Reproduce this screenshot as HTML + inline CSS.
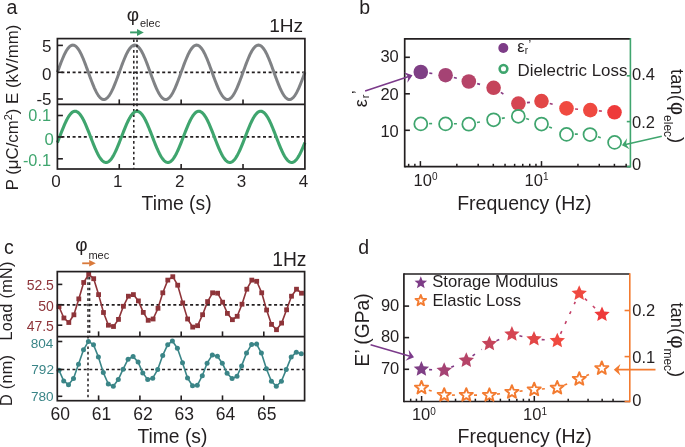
<!DOCTYPE html>
<html><head><meta charset="utf-8"><style>
html,body{margin:0;padding:0;background:#fff;width:685px;height:447px;overflow:hidden}
svg{display:block;will-change:transform}
text{font-family:"Liberation Sans", sans-serif}
</style></head><body>
<svg width="685" height="447" viewBox="0 0 685 447">
<rect width="685" height="447" fill="#fff"/>
<text x="6.5" y="14.3" font-size="19.5" fill="#231f20" text-anchor="start" >a</text>
<text x="269.2" y="32.4" font-size="19.1" fill="#231f20" text-anchor="start" >1Hz</text>
<line x1="57.4" y1="72.4" x2="304.9" y2="72.4" stroke="#231f20" stroke-width="1.7" stroke-dasharray="3 2.6" stroke-dashoffset="1.6"/>
<line x1="57.4" y1="136.9" x2="304.9" y2="136.9" stroke="#231f20" stroke-width="1.7" stroke-dasharray="3 2.6" stroke-dashoffset="1.6"/>
<line x1="133.8" y1="38.6" x2="133.8" y2="169" stroke="#231f20" stroke-width="1.5" stroke-dasharray="2.6 2.75" stroke-dashoffset="-0.8"/>
<polyline points="57.4,72.3 58.02,70.59 58.64,68.89 59.26,67.2 59.88,65.54 60.49,63.89 61.11,62.29 61.73,60.72 62.35,59.2 62.97,57.73 63.59,56.31 64.21,54.96 64.83,53.68 65.44,52.47 66.06,51.34 66.68,50.29 67.3,49.33 67.92,48.46 68.54,47.69 69.16,47.01 69.78,46.43 70.39,45.95 71.01,45.58 71.63,45.31 72.25,45.15 72.87,45.1 73.49,45.15 74.11,45.31 74.72,45.58 75.34,45.95 75.96,46.43 76.58,47.01 77.2,47.69 77.82,48.46 78.44,49.33 79.06,50.29 79.67,51.34 80.29,52.47 80.91,53.68 81.53,54.96 82.15,56.31 82.77,57.73 83.39,59.2 84.01,60.72 84.62,62.29 85.24,63.89 85.86,65.54 86.48,67.2 87.1,68.89 87.72,70.59 88.34,72.3 88.96,74.01 89.57,75.71 90.19,77.4 90.81,79.06 91.43,80.71 92.05,82.31 92.67,83.88 93.29,85.4 93.91,86.87 94.52,88.29 95.14,89.64 95.76,90.92 96.38,92.13 97,93.26 97.62,94.31 98.24,95.27 98.86,96.14 99.47,96.91 100.09,97.59 100.71,98.17 101.33,98.65 101.95,99.02 102.57,99.29 103.19,99.45 103.81,99.5 104.42,99.45 105.04,99.29 105.66,99.02 106.28,98.65 106.9,98.17 107.52,97.59 108.14,96.91 108.76,96.14 109.38,95.27 109.99,94.31 110.61,93.26 111.23,92.13 111.85,90.92 112.47,89.64 113.09,88.29 113.71,86.87 114.32,85.4 114.94,83.88 115.56,82.31 116.18,80.71 116.8,79.06 117.42,77.4 118.04,75.71 118.66,74.01 119.27,72.3 119.89,70.59 120.51,68.89 121.13,67.2 121.75,65.54 122.37,63.89 122.99,62.29 123.61,60.72 124.22,59.2 124.84,57.73 125.46,56.31 126.08,54.96 126.7,53.68 127.32,52.47 127.94,51.34 128.56,50.29 129.17,49.33 129.79,48.46 130.41,47.69 131.03,47.01 131.65,46.43 132.27,45.95 132.89,45.58 133.51,45.31 134.12,45.15 134.74,45.1 135.36,45.15 135.98,45.31 136.6,45.58 137.22,45.95 137.84,46.43 138.46,47.01 139.07,47.69 139.69,48.46 140.31,49.33 140.93,50.29 141.55,51.34 142.17,52.47 142.79,53.68 143.41,54.96 144.02,56.31 144.64,57.73 145.26,59.2 145.88,60.72 146.5,62.29 147.12,63.89 147.74,65.54 148.36,67.2 148.97,68.89 149.59,70.59 150.21,72.3 150.83,74.01 151.45,75.71 152.07,77.4 152.69,79.06 153.31,80.71 153.92,82.31 154.54,83.88 155.16,85.4 155.78,86.87 156.4,88.29 157.02,89.64 157.64,90.92 158.26,92.13 158.87,93.26 159.49,94.31 160.11,95.27 160.73,96.14 161.35,96.91 161.97,97.59 162.59,98.17 163.21,98.65 163.82,99.02 164.44,99.29 165.06,99.45 165.68,99.5 166.3,99.45 166.92,99.29 167.54,99.02 168.16,98.65 168.77,98.17 169.39,97.59 170.01,96.91 170.63,96.14 171.25,95.27 171.87,94.31 172.49,93.26 173.11,92.13 173.72,90.92 174.34,89.64 174.96,88.29 175.58,86.87 176.2,85.4 176.82,83.88 177.44,82.31 178.06,80.71 178.67,79.06 179.29,77.4 179.91,75.71 180.53,74.01 181.15,72.3 181.77,70.59 182.39,68.89 183.01,67.2 183.62,65.54 184.24,63.89 184.86,62.29 185.48,60.72 186.1,59.2 186.72,57.73 187.34,56.31 187.96,54.96 188.57,53.68 189.19,52.47 189.81,51.34 190.43,50.29 191.05,49.33 191.67,48.46 192.29,47.69 192.91,47.01 193.53,46.43 194.14,45.95 194.76,45.58 195.38,45.31 196,45.15 196.62,45.1 197.24,45.15 197.86,45.31 198.47,45.58 199.09,45.95 199.71,46.43 200.33,47.01 200.95,47.69 201.57,48.46 202.19,49.33 202.81,50.29 203.42,51.34 204.04,52.47 204.66,53.68 205.28,54.96 205.9,56.31 206.52,57.73 207.14,59.2 207.76,60.72 208.37,62.29 208.99,63.89 209.61,65.54 210.23,67.2 210.85,68.89 211.47,70.59 212.09,72.3 212.71,74.01 213.32,75.71 213.94,77.4 214.56,79.06 215.18,80.71 215.8,82.31 216.42,83.88 217.04,85.4 217.66,86.87 218.28,88.29 218.89,89.64 219.51,90.92 220.13,92.13 220.75,93.26 221.37,94.31 221.99,95.27 222.61,96.14 223.22,96.91 223.84,97.59 224.46,98.17 225.08,98.65 225.7,99.02 226.32,99.29 226.94,99.45 227.56,99.5 228.17,99.45 228.79,99.29 229.41,99.02 230.03,98.65 230.65,98.17 231.27,97.59 231.89,96.91 232.51,96.14 233.12,95.27 233.74,94.31 234.36,93.26 234.98,92.13 235.6,90.92 236.22,89.64 236.84,88.29 237.46,86.87 238.07,85.4 238.69,83.88 239.31,82.31 239.93,80.71 240.55,79.06 241.17,77.4 241.79,75.71 242.41,74.01 243.02,72.3 243.64,70.59 244.26,68.89 244.88,67.2 245.5,65.54 246.12,63.89 246.74,62.29 247.36,60.72 247.97,59.2 248.59,57.73 249.21,56.31 249.83,54.96 250.45,53.68 251.07,52.47 251.69,51.34 252.31,50.29 252.92,49.33 253.54,48.46 254.16,47.69 254.78,47.01 255.4,46.43 256.02,45.95 256.64,45.58 257.26,45.31 257.88,45.15 258.49,45.1 259.11,45.15 259.73,45.31 260.35,45.58 260.97,45.95 261.59,46.43 262.21,47.01 262.82,47.69 263.44,48.46 264.06,49.33 264.68,50.29 265.3,51.34 265.92,52.47 266.54,53.68 267.16,54.96 267.77,56.31 268.39,57.73 269.01,59.2 269.63,60.72 270.25,62.29 270.87,63.89 271.49,65.54 272.11,67.2 272.72,68.89 273.34,70.59 273.96,72.3 274.58,74.01 275.2,75.71 275.82,77.4 276.44,79.06 277.06,80.71 277.67,82.31 278.29,83.88 278.91,85.4 279.53,86.87 280.15,88.29 280.77,89.64 281.39,90.92 282.01,92.13 282.62,93.26 283.24,94.31 283.86,95.27 284.48,96.14 285.1,96.91 285.72,97.59 286.34,98.17 286.96,98.65 287.57,99.02 288.19,99.29 288.81,99.45 289.43,99.5 290.05,99.45 290.67,99.29 291.29,99.02 291.91,98.65 292.52,98.17 293.14,97.59 293.76,96.91 294.38,96.14 295,95.27 295.62,94.31 296.24,93.26 296.86,92.13 297.47,90.92 298.09,89.64 298.71,88.29 299.33,86.87 299.95,85.4 300.57,83.88 301.19,82.31 301.81,80.71 302.42,79.06 303.04,77.4 303.66,75.71 304.28,74.01 304.9,72.3" fill="none" stroke="#808285" stroke-width="3.0" stroke-linejoin="round" />
<polyline points="57.4,142.59 58.02,141.01 58.64,139.42 59.26,137.81 59.88,136.21 60.49,134.6 61.11,133 61.73,131.42 62.35,129.86 62.97,128.33 63.59,126.83 64.21,125.37 64.83,123.96 65.44,122.59 66.06,121.29 66.68,120.04 67.3,118.86 67.92,117.75 68.54,116.72 69.16,115.77 69.78,114.9 70.39,114.11 71.01,113.42 71.63,112.82 72.25,112.31 72.87,111.9 73.49,111.59 74.11,111.38 74.72,111.27 75.34,111.26 75.96,111.35 76.58,111.54 77.2,111.83 77.82,112.22 78.44,112.71 79.06,113.29 79.67,113.97 80.29,114.73 80.91,115.59 81.53,116.52 82.15,117.54 82.77,118.63 83.39,119.8 84.01,121.03 84.62,122.33 85.24,123.68 85.86,125.08 86.48,126.54 87.1,128.03 87.72,129.55 88.34,131.11 88.96,132.69 89.57,134.28 90.19,135.89 90.81,137.49 91.43,139.1 92.05,140.7 92.67,142.28 93.29,143.84 93.91,145.37 94.52,146.87 95.14,148.33 95.76,149.74 96.38,151.11 97,152.41 97.62,153.66 98.24,154.84 98.86,155.95 99.47,156.98 100.09,157.93 100.71,158.8 101.33,159.59 101.95,160.28 102.57,160.88 103.19,161.39 103.81,161.8 104.42,162.11 105.04,162.32 105.66,162.43 106.28,162.44 106.9,162.35 107.52,162.16 108.14,161.87 108.76,161.48 109.38,160.99 109.99,160.41 110.61,159.73 111.23,158.97 111.85,158.11 112.47,157.18 113.09,156.16 113.71,155.07 114.32,153.9 114.94,152.67 115.56,151.37 116.18,150.02 116.8,148.62 117.42,147.16 118.04,145.67 118.66,144.15 119.27,142.59 119.89,141.01 120.51,139.42 121.13,137.81 121.75,136.21 122.37,134.6 122.99,133 123.61,131.42 124.22,129.86 124.84,128.33 125.46,126.83 126.08,125.37 126.7,123.96 127.32,122.59 127.94,121.29 128.56,120.04 129.17,118.86 129.79,117.75 130.41,116.72 131.03,115.77 131.65,114.9 132.27,114.11 132.89,113.42 133.51,112.82 134.12,112.31 134.74,111.9 135.36,111.59 135.98,111.38 136.6,111.27 137.22,111.26 137.84,111.35 138.46,111.54 139.07,111.83 139.69,112.22 140.31,112.71 140.93,113.29 141.55,113.97 142.17,114.73 142.79,115.59 143.41,116.52 144.02,117.54 144.64,118.63 145.26,119.8 145.88,121.03 146.5,122.33 147.12,123.68 147.74,125.08 148.36,126.54 148.97,128.03 149.59,129.55 150.21,131.11 150.83,132.69 151.45,134.28 152.07,135.89 152.69,137.49 153.31,139.1 153.92,140.7 154.54,142.28 155.16,143.84 155.78,145.37 156.4,146.87 157.02,148.33 157.64,149.74 158.26,151.11 158.87,152.41 159.49,153.66 160.11,154.84 160.73,155.95 161.35,156.98 161.97,157.93 162.59,158.8 163.21,159.59 163.82,160.28 164.44,160.88 165.06,161.39 165.68,161.8 166.3,162.11 166.92,162.32 167.54,162.43 168.16,162.44 168.77,162.35 169.39,162.16 170.01,161.87 170.63,161.48 171.25,160.99 171.87,160.41 172.49,159.73 173.11,158.97 173.72,158.11 174.34,157.18 174.96,156.16 175.58,155.07 176.2,153.9 176.82,152.67 177.44,151.37 178.06,150.02 178.67,148.62 179.29,147.16 179.91,145.67 180.53,144.15 181.15,142.59 181.77,141.01 182.39,139.42 183.01,137.81 183.62,136.21 184.24,134.6 184.86,133 185.48,131.42 186.1,129.86 186.72,128.33 187.34,126.83 187.96,125.37 188.57,123.96 189.19,122.59 189.81,121.29 190.43,120.04 191.05,118.86 191.67,117.75 192.29,116.72 192.91,115.77 193.53,114.9 194.14,114.11 194.76,113.42 195.38,112.82 196,112.31 196.62,111.9 197.24,111.59 197.86,111.38 198.47,111.27 199.09,111.26 199.71,111.35 200.33,111.54 200.95,111.83 201.57,112.22 202.19,112.71 202.81,113.29 203.42,113.97 204.04,114.73 204.66,115.59 205.28,116.52 205.9,117.54 206.52,118.63 207.14,119.8 207.76,121.03 208.37,122.33 208.99,123.68 209.61,125.08 210.23,126.54 210.85,128.03 211.47,129.55 212.09,131.11 212.71,132.69 213.32,134.28 213.94,135.89 214.56,137.49 215.18,139.1 215.8,140.7 216.42,142.28 217.04,143.84 217.66,145.37 218.28,146.87 218.89,148.33 219.51,149.74 220.13,151.11 220.75,152.41 221.37,153.66 221.99,154.84 222.61,155.95 223.22,156.98 223.84,157.93 224.46,158.8 225.08,159.59 225.7,160.28 226.32,160.88 226.94,161.39 227.56,161.8 228.17,162.11 228.79,162.32 229.41,162.43 230.03,162.44 230.65,162.35 231.27,162.16 231.89,161.87 232.51,161.48 233.12,160.99 233.74,160.41 234.36,159.73 234.98,158.97 235.6,158.11 236.22,157.18 236.84,156.16 237.46,155.07 238.07,153.9 238.69,152.67 239.31,151.37 239.93,150.02 240.55,148.62 241.17,147.16 241.79,145.67 242.41,144.15 243.02,142.59 243.64,141.01 244.26,139.42 244.88,137.81 245.5,136.21 246.12,134.6 246.74,133 247.36,131.42 247.97,129.86 248.59,128.33 249.21,126.83 249.83,125.37 250.45,123.96 251.07,122.59 251.69,121.29 252.31,120.04 252.92,118.86 253.54,117.75 254.16,116.72 254.78,115.77 255.4,114.9 256.02,114.11 256.64,113.42 257.26,112.82 257.88,112.31 258.49,111.9 259.11,111.59 259.73,111.38 260.35,111.27 260.97,111.26 261.59,111.35 262.21,111.54 262.82,111.83 263.44,112.22 264.06,112.71 264.68,113.29 265.3,113.97 265.92,114.73 266.54,115.59 267.16,116.52 267.77,117.54 268.39,118.63 269.01,119.8 269.63,121.03 270.25,122.33 270.87,123.68 271.49,125.08 272.11,126.54 272.72,128.03 273.34,129.55 273.96,131.11 274.58,132.69 275.2,134.28 275.82,135.89 276.44,137.49 277.06,139.1 277.67,140.7 278.29,142.28 278.91,143.84 279.53,145.37 280.15,146.87 280.77,148.33 281.39,149.74 282.01,151.11 282.62,152.41 283.24,153.66 283.86,154.84 284.48,155.95 285.1,156.98 285.72,157.93 286.34,158.8 286.96,159.59 287.57,160.28 288.19,160.88 288.81,161.39 289.43,161.8 290.05,162.11 290.67,162.32 291.29,162.43 291.91,162.44 292.52,162.35 293.14,162.16 293.76,161.87 294.38,161.48 295,160.99 295.62,160.41 296.24,159.73 296.86,158.97 297.47,158.11 298.09,157.18 298.71,156.16 299.33,155.07 299.95,153.9 300.57,152.67 301.19,151.37 301.81,150.02 302.42,148.62 303.04,147.16 303.66,145.67 304.28,144.15 304.9,142.59" fill="none" stroke="#3fa56e" stroke-width="3.1" stroke-linejoin="round" />
<line x1="137" y1="38.6" x2="137" y2="111" stroke="#231f20" stroke-width="1.5" stroke-dasharray="2.6 2.75" stroke-dashoffset="-0.8"/>
<rect x="57.4" y="38.6" width="247.5" height="130.4" fill="none" stroke="#231f20" stroke-width="1.7"/>
<line x1="57.4" y1="104.4" x2="304.9" y2="104.4" stroke="#231f20" stroke-width="1.7" />
<line x1="57.4" y1="45.4" x2="62.9" y2="45.4" stroke="#231f20" stroke-width="1.6" />
<line x1="57.4" y1="72.3" x2="62.9" y2="72.3" stroke="#231f20" stroke-width="1.6" />
<line x1="57.4" y1="99" x2="62.9" y2="99" stroke="#231f20" stroke-width="1.6" />
<line x1="57.4" y1="115.5" x2="62.9" y2="115.5" stroke="#231f20" stroke-width="1.6" />
<line x1="57.4" y1="137" x2="62.9" y2="137" stroke="#231f20" stroke-width="1.6" />
<line x1="57.4" y1="158.8" x2="62.9" y2="158.8" stroke="#231f20" stroke-width="1.6" />
<line x1="119.27" y1="169" x2="119.27" y2="164" stroke="#231f20" stroke-width="1.6" />
<line x1="119.27" y1="104.4" x2="119.27" y2="99.4" stroke="#231f20" stroke-width="1.6" />
<line x1="181.15" y1="169" x2="181.15" y2="164" stroke="#231f20" stroke-width="1.6" />
<line x1="181.15" y1="104.4" x2="181.15" y2="99.4" stroke="#231f20" stroke-width="1.6" />
<line x1="243.02" y1="169" x2="243.02" y2="164" stroke="#231f20" stroke-width="1.6" />
<line x1="243.02" y1="104.4" x2="243.02" y2="99.4" stroke="#231f20" stroke-width="1.6" />
<text x="51.5" y="51.5" font-size="17" fill="#231f20" text-anchor="end" >5</text>
<text x="51.5" y="79.9" font-size="17" fill="#231f20" text-anchor="end" >0</text>
<text x="51.5" y="105.1" font-size="17" fill="#231f20" text-anchor="end" >-5</text>
<text x="51" y="120.8" font-size="16.3" fill="#3fa56e" text-anchor="end" >0.1</text>
<text x="53.8" y="145" font-size="16.8" fill="#3fa56e" text-anchor="end" >0</text>
<text x="51" y="166.2" font-size="16.3" fill="#3fa56e" text-anchor="end" >-0.1</text>
<text x="55.9" y="186.8" font-size="17" fill="#231f20" text-anchor="middle" >0</text>
<text x="117.77" y="186.8" font-size="17" fill="#231f20" text-anchor="middle" >1</text>
<text x="179.65" y="186.8" font-size="17" fill="#231f20" text-anchor="middle" >2</text>
<text x="241.52" y="186.8" font-size="17" fill="#231f20" text-anchor="middle" >3</text>
<text x="303.4" y="186.8" font-size="17" fill="#231f20" text-anchor="middle" >4</text>
<text x="176.6" y="210.1" font-size="19.3" fill="#231f20" text-anchor="middle" >Time (s)</text>
<text transform="translate(18.1,190.3) rotate(-90)" font-size="16.8" fill="#231f20">P (μC/cm<tspan font-size="11" dy="-6">2</tspan><tspan dy="6">) E (kV/mm)</tspan></text>
<text x="126.8" y="20.6" font-size="19" fill="#231f20" text-anchor="start" >φ</text>
<text x="140" y="26.5" font-size="11" fill="#231f20" text-anchor="start" >elec</text>
<line x1="130.1" y1="32.4" x2="137.5" y2="32.4" stroke="#3a9c68" stroke-width="1.9" />
<polygon points="143.8,32.4 137,35.9 137,32.4 137,28.9" fill="#3a9c68"/>
<text x="359.2" y="14" font-size="19.5" fill="#231f20" text-anchor="start" >b</text>
<line x1="404.7" y1="38.9" x2="630.4" y2="38.9" stroke="#231f20" stroke-width="1.7" />
<line x1="404.7" y1="38.05" x2="404.7" y2="167.45" stroke="#231f20" stroke-width="1.7" />
<line x1="404.7" y1="166.6" x2="630.4" y2="166.6" stroke="#231f20" stroke-width="1.7" />
<line x1="630.4" y1="38.05" x2="630.4" y2="167.45" stroke="#3fa56e" stroke-width="1.6" />
<line x1="404.7" y1="57.3" x2="409.9" y2="57.3" stroke="#231f20" stroke-width="1.6" />
<text x="398.8" y="62.4" font-size="16.5" fill="#231f20" text-anchor="end" >30</text>
<line x1="404.7" y1="93.8" x2="409.9" y2="93.8" stroke="#231f20" stroke-width="1.6" />
<text x="398.8" y="100" font-size="16.5" fill="#231f20" text-anchor="end" >20</text>
<line x1="404.7" y1="130.3" x2="409.9" y2="130.3" stroke="#231f20" stroke-width="1.6" />
<text x="398.8" y="137" font-size="16.5" fill="#231f20" text-anchor="end" >10</text>
<line x1="630.4" y1="75.8" x2="626.8" y2="75.8" stroke="#3fa56e" stroke-width="1.6" />
<line x1="630.4" y1="121.6" x2="626.8" y2="121.6" stroke="#3fa56e" stroke-width="1.6" />
<line x1="630.4" y1="166.6" x2="626.8" y2="166.6" stroke="#3fa56e" stroke-width="1.6" />
<text x="632" y="79.9" font-size="16.5" fill="#231f20" text-anchor="start" >0.4</text>
<text x="632" y="127.7" font-size="16.5" fill="#231f20" text-anchor="start" >0.2</text>
<text x="632" y="169.6" font-size="16.5" fill="#231f20" text-anchor="start" >0</text>
<line x1="408.66" y1="166.6" x2="408.66" y2="163.8" stroke="#231f20" stroke-width="1.5" />
<line x1="414.86" y1="166.6" x2="414.86" y2="163.8" stroke="#231f20" stroke-width="1.5" />
<line x1="456.85" y1="166.6" x2="456.85" y2="163.8" stroke="#231f20" stroke-width="1.5" />
<line x1="478.18" y1="166.6" x2="478.18" y2="163.8" stroke="#231f20" stroke-width="1.5" />
<line x1="493.31" y1="166.6" x2="493.31" y2="163.8" stroke="#231f20" stroke-width="1.5" />
<line x1="505.05" y1="166.6" x2="505.05" y2="163.8" stroke="#231f20" stroke-width="1.5" />
<line x1="514.63" y1="166.6" x2="514.63" y2="163.8" stroke="#231f20" stroke-width="1.5" />
<line x1="522.74" y1="166.6" x2="522.74" y2="163.8" stroke="#231f20" stroke-width="1.5" />
<line x1="529.76" y1="166.6" x2="529.76" y2="163.8" stroke="#231f20" stroke-width="1.5" />
<line x1="535.96" y1="166.6" x2="535.96" y2="163.8" stroke="#231f20" stroke-width="1.5" />
<line x1="577.95" y1="166.6" x2="577.95" y2="163.8" stroke="#231f20" stroke-width="1.5" />
<line x1="599.28" y1="166.6" x2="599.28" y2="163.8" stroke="#231f20" stroke-width="1.5" />
<line x1="614.41" y1="166.6" x2="614.41" y2="163.8" stroke="#231f20" stroke-width="1.5" />
<line x1="626.15" y1="166.6" x2="626.15" y2="163.8" stroke="#231f20" stroke-width="1.5" />
<line x1="420.4" y1="166.6" x2="420.4" y2="161.1" stroke="#231f20" stroke-width="1.5" />
<line x1="541.5" y1="166.6" x2="541.5" y2="161.1" stroke="#231f20" stroke-width="1.5" />
<text x="413.6" y="185.8" font-size="16.5" fill="#231f20">10<tspan font-size="10" dy="-5.4">0</tspan></text>
<text x="524.6" y="185.8" font-size="16.5" fill="#231f20">10<tspan font-size="10" dy="-5.4">1</tspan></text>
<text x="524.4" y="209.9" font-size="19.5" fill="#231f20" text-anchor="middle" >Frequency (Hz)</text>
<line x1="429.33" y1="73.1" x2="436.18" y2="73.98" stroke="#7d3a88" stroke-width="1.6" stroke-dasharray="3 9" />
<line x1="453.9" y1="77.45" x2="459.63" y2="79.01" stroke="#803a86" stroke-width="1.6" stroke-dasharray="3 9" />
<line x1="477.14" y1="83.62" x2="484.39" y2="85.46" stroke="#843a84" stroke-width="1.6" stroke-dasharray="3 9" />
<line x1="500.85" y1="92.42" x2="510.39" y2="98.5" stroke="#883a80" stroke-width="1.6" stroke-dasharray="3 9" />
<line x1="526.95" y1="102.67" x2="532.06" y2="102.12" stroke="#8e3a7e" stroke-width="1.6" stroke-dasharray="3 9" />
<line x1="549.76" y1="103.51" x2="557.38" y2="105.74" stroke="#9c3b78" stroke-width="1.6" stroke-dasharray="3 9" />
<line x1="575.08" y1="109.01" x2="580.82" y2="109.42" stroke="#c23e66" stroke-width="1.6" stroke-dasharray="3 9" />
<line x1="598.86" y1="110.88" x2="605.04" y2="111.44" stroke="#c9456a" stroke-width="1.6" stroke-dasharray="3 9" />
<line x1="429.1" y1="123.6" x2="436.1" y2="123.6" stroke="#3fa56e" stroke-width="1.6" stroke-dasharray="3 9" />
<line x1="453.9" y1="123.71" x2="459.3" y2="123.78" stroke="#3fa56e" stroke-width="1.6" stroke-dasharray="3 9" />
<line x1="476.97" y1="122.45" x2="484.25" y2="121.16" stroke="#3fa56e" stroke-width="1.6" stroke-dasharray="3 9" />
<line x1="501.82" y1="118.34" x2="508.89" y2="117.33" stroke="#3fa56e" stroke-width="1.6" stroke-dasharray="3 9" />
<line x1="526.18" y1="118.61" x2="532.48" y2="120.71" stroke="#3fa56e" stroke-width="1.6" stroke-dasharray="3 9" />
<line x1="549.16" y1="126.89" x2="557.73" y2="130.45" stroke="#3fa56e" stroke-width="1.6" stroke-dasharray="3 9" />
<line x1="574.8" y1="134.14" x2="580.5" y2="134.16" stroke="#3fa56e" stroke-width="1.6" stroke-dasharray="3 9" />
<line x1="597.9" y1="136.74" x2="605.55" y2="139.2" stroke="#3fa56e" stroke-width="1.6" stroke-dasharray="3 9" />
<circle cx="420.8" cy="72" r="7.3" fill="#7f3f85"/>
<circle cx="445.6" cy="75.2" r="7.3" fill="#a54374"/>
<circle cx="468.8" cy="81.5" r="7.3" fill="#b64468"/>
<circle cx="493.6" cy="87.8" r="7.3" fill="#c5445b"/>
<circle cx="518.4" cy="103.6" r="7.3" fill="#d54552"/>
<circle cx="541.5" cy="101.1" r="7.3" fill="#e24646"/>
<circle cx="566.5" cy="108.4" r="7.3" fill="#f04a40"/>
<circle cx="590.3" cy="110.1" r="7.3" fill="#ef4940"/>
<circle cx="614.5" cy="112.3" r="7.3" fill="#ee3a3a"/>
<circle cx="420.8" cy="123.9" r="6.5" fill="none" stroke="#3fa56e" stroke-width="1.75"/>
<circle cx="445.6" cy="123.9" r="6.5" fill="none" stroke="#3fa56e" stroke-width="1.75"/>
<circle cx="468.8" cy="124.2" r="6.5" fill="none" stroke="#3fa56e" stroke-width="1.75"/>
<circle cx="493.6" cy="119.8" r="6.5" fill="none" stroke="#3fa56e" stroke-width="1.75"/>
<circle cx="518.3" cy="116.3" r="6.5" fill="none" stroke="#3fa56e" stroke-width="1.75"/>
<circle cx="541.5" cy="124" r="6.5" fill="none" stroke="#3fa56e" stroke-width="1.75"/>
<circle cx="566.5" cy="134.4" r="6.5" fill="none" stroke="#3fa56e" stroke-width="1.75"/>
<circle cx="590" cy="134.5" r="6.5" fill="none" stroke="#3fa56e" stroke-width="1.75"/>
<circle cx="614.6" cy="142.4" r="6.5" fill="none" stroke="#3fa56e" stroke-width="1.75"/>
<circle cx="503.3" cy="48" r="5" fill="#7d3c87"/>
<circle cx="503.5" cy="68.8" r="3.85" fill="none" stroke="#3fa56e" stroke-width="2.6"/>
<text x="517.3" y="52.3" font-size="16.5" fill="#231f20">ε<tspan font-size="10" dy="1.5">r</tspan><tspan font-size="12" dx="0.5" dy="-4.4">’</tspan></text>
<text x="517.5" y="75.6" font-size="16.9" fill="#231f20" text-anchor="start" >Dielectric Loss</text>
<text transform="translate(367.2,107.2) rotate(-90)" font-size="18" fill="#231f20">ε<tspan font-size="11" dx="0.8" dy="1.6">r</tspan><tspan font-size="16" dx="0.6" dy="-4.7">’</tspan></text>
<text transform="translate(670.6,69.0) rotate(90)" font-size="18.5" fill="#231f20">tan(<tspan font-size="20" dx="1.2">φ</tspan><tspan font-size="12" dy="6.6">elec</tspan><tspan dy="-6.6">)</tspan></text>
<line x1="365.1" y1="91.1" x2="408.71" y2="76.56" stroke="#7b3a8a" stroke-width="1.6" />
<polygon points="412.5,75.3 407.41,82.79 408.23,76.72 403.93,72.36" fill="#7b3a8a"/>
<line x1="661.8" y1="136.2" x2="625.51" y2="144.48" stroke="#3fa56e" stroke-width="1.6" />
<polygon points="621.9,145.3 627.09,138.37 625.99,144.37 629.58,149.29" fill="#3fa56e"/>
<text x="4" y="253.5" font-size="19.5" fill="#231f20" text-anchor="start" >c</text>
<text x="272.2" y="266.2" font-size="19.3" fill="#231f20" text-anchor="start" >1Hz</text>
<line x1="57.3" y1="304.8" x2="304.6" y2="304.8" stroke="#231f20" stroke-width="1.7" stroke-dasharray="3 2.6" stroke-dashoffset="1.6"/>
<line x1="57.3" y1="369.5" x2="304.6" y2="369.5" stroke="#231f20" stroke-width="1.7" stroke-dasharray="3 2.6" stroke-dashoffset="1.6"/>
<line x1="88" y1="271.6" x2="88" y2="400.7" stroke="#231f20" stroke-width="1.5" stroke-dasharray="2.6 2.75" />
<line x1="89.7" y1="271.6" x2="89.7" y2="336.7" stroke="#231f20" stroke-width="1.3" stroke-dasharray="2.6 2.75" />
<polyline points="59,306.7 63.9,318 68.8,322.5 73.9,314.8 78.8,298.9 83.7,282.5 88.7,274.3 93.7,278.7 98.6,294.6 103.5,312.5 108.4,325.2 113.5,326.5 118.5,319.4 123.4,306.3 128.4,296.2 133.4,294.6 138.4,300.9 143.3,312.4 148.2,320.3 153.1,319 158,308.3 162.8,292.8 167.8,280.1 172.8,276.7 177.7,285.2 182.7,302.9 187.6,319 192.7,327.1 197.6,325.7 202.6,314.7 207.6,301.6 212.6,292.8 217.6,293.2 222.6,302.2 227.4,313.4 232.4,319.7 237.2,316.3 242,304.2 246.8,289.2 251.8,280.1 256.7,281.3 261.7,292.8 266.6,310 271.5,324.4 276.5,329.7 281.6,323.1 286.6,309.8 291.5,296.2 296.5,289.2 301.5,293.2" fill="none" stroke="#8e3439" stroke-width="1.6" stroke-linejoin="round" />
<rect x="56.6" y="304.3" width="4.8" height="4.8" fill="#8e3439"/>
<rect x="61.5" y="315.6" width="4.8" height="4.8" fill="#8e3439"/>
<rect x="66.4" y="320.1" width="4.8" height="4.8" fill="#8e3439"/>
<rect x="71.5" y="312.4" width="4.8" height="4.8" fill="#8e3439"/>
<rect x="76.4" y="296.5" width="4.8" height="4.8" fill="#8e3439"/>
<rect x="81.3" y="280.1" width="4.8" height="4.8" fill="#8e3439"/>
<rect x="86.3" y="271.9" width="4.8" height="4.8" fill="#8e3439"/>
<rect x="91.3" y="276.3" width="4.8" height="4.8" fill="#8e3439"/>
<rect x="96.2" y="292.2" width="4.8" height="4.8" fill="#8e3439"/>
<rect x="101.1" y="310.1" width="4.8" height="4.8" fill="#8e3439"/>
<rect x="106" y="322.8" width="4.8" height="4.8" fill="#8e3439"/>
<rect x="111.1" y="324.1" width="4.8" height="4.8" fill="#8e3439"/>
<rect x="116.1" y="317" width="4.8" height="4.8" fill="#8e3439"/>
<rect x="121" y="303.9" width="4.8" height="4.8" fill="#8e3439"/>
<rect x="126" y="293.8" width="4.8" height="4.8" fill="#8e3439"/>
<rect x="131" y="292.2" width="4.8" height="4.8" fill="#8e3439"/>
<rect x="136" y="298.5" width="4.8" height="4.8" fill="#8e3439"/>
<rect x="140.9" y="310" width="4.8" height="4.8" fill="#8e3439"/>
<rect x="145.8" y="317.9" width="4.8" height="4.8" fill="#8e3439"/>
<rect x="150.7" y="316.6" width="4.8" height="4.8" fill="#8e3439"/>
<rect x="155.6" y="305.9" width="4.8" height="4.8" fill="#8e3439"/>
<rect x="160.4" y="290.4" width="4.8" height="4.8" fill="#8e3439"/>
<rect x="165.4" y="277.7" width="4.8" height="4.8" fill="#8e3439"/>
<rect x="170.4" y="274.3" width="4.8" height="4.8" fill="#8e3439"/>
<rect x="175.3" y="282.8" width="4.8" height="4.8" fill="#8e3439"/>
<rect x="180.3" y="300.5" width="4.8" height="4.8" fill="#8e3439"/>
<rect x="185.2" y="316.6" width="4.8" height="4.8" fill="#8e3439"/>
<rect x="190.3" y="324.7" width="4.8" height="4.8" fill="#8e3439"/>
<rect x="195.2" y="323.3" width="4.8" height="4.8" fill="#8e3439"/>
<rect x="200.2" y="312.3" width="4.8" height="4.8" fill="#8e3439"/>
<rect x="205.2" y="299.2" width="4.8" height="4.8" fill="#8e3439"/>
<rect x="210.2" y="290.4" width="4.8" height="4.8" fill="#8e3439"/>
<rect x="215.2" y="290.8" width="4.8" height="4.8" fill="#8e3439"/>
<rect x="220.2" y="299.8" width="4.8" height="4.8" fill="#8e3439"/>
<rect x="225" y="311" width="4.8" height="4.8" fill="#8e3439"/>
<rect x="230" y="317.3" width="4.8" height="4.8" fill="#8e3439"/>
<rect x="234.8" y="313.9" width="4.8" height="4.8" fill="#8e3439"/>
<rect x="239.6" y="301.8" width="4.8" height="4.8" fill="#8e3439"/>
<rect x="244.4" y="286.8" width="4.8" height="4.8" fill="#8e3439"/>
<rect x="249.4" y="277.7" width="4.8" height="4.8" fill="#8e3439"/>
<rect x="254.3" y="278.9" width="4.8" height="4.8" fill="#8e3439"/>
<rect x="259.3" y="290.4" width="4.8" height="4.8" fill="#8e3439"/>
<rect x="264.2" y="307.6" width="4.8" height="4.8" fill="#8e3439"/>
<rect x="269.1" y="322" width="4.8" height="4.8" fill="#8e3439"/>
<rect x="274.1" y="327.3" width="4.8" height="4.8" fill="#8e3439"/>
<rect x="279.2" y="320.7" width="4.8" height="4.8" fill="#8e3439"/>
<rect x="284.2" y="307.4" width="4.8" height="4.8" fill="#8e3439"/>
<rect x="289.1" y="293.8" width="4.8" height="4.8" fill="#8e3439"/>
<rect x="294.1" y="286.8" width="4.8" height="4.8" fill="#8e3439"/>
<rect x="299.1" y="290.8" width="4.8" height="4.8" fill="#8e3439"/>
<polyline points="59,370.2 63.7,380.9 68.5,384.7 73.5,378.6 78.5,364.3 83.5,349.8 88.4,341.4 93.5,344.7 98.4,356.9 103.3,372.6 108.3,384 113.3,386.2 118.3,379.6 123.1,369.2 128.1,359.2 133.1,356.5 138.1,362.1 142.8,372.9 147.7,379.6 152.7,378.2 157.7,369.6 162.7,355.4 167.7,344.7 172.4,341 177.4,348.2 182.5,362.8 187.5,378 192.5,385.7 197.3,385.3 202.3,375.7 207.1,363.2 212.3,354.9 217.4,356.2 222.3,363.2 227.1,373.3 232.1,378.6 237,376.3 241.6,365.9 246.5,353.1 251.6,344.4 256.6,344.1 261.4,353.1 266.4,368.7 271.4,381.3 276.3,386.3 281.4,381.3 286.2,369.6 291.2,357.1 296.3,352.2 301.3,353.8" fill="none" stroke="#3a8587" stroke-width="1.6" stroke-linejoin="round" />
<circle cx="59" cy="370.2" r="2.5" fill="#3a8587"/>
<circle cx="63.7" cy="380.9" r="2.5" fill="#3a8587"/>
<circle cx="68.5" cy="384.7" r="2.5" fill="#3a8587"/>
<circle cx="73.5" cy="378.6" r="2.5" fill="#3a8587"/>
<circle cx="78.5" cy="364.3" r="2.5" fill="#3a8587"/>
<circle cx="83.5" cy="349.8" r="2.5" fill="#3a8587"/>
<circle cx="88.4" cy="341.4" r="2.5" fill="#3a8587"/>
<circle cx="93.5" cy="344.7" r="2.5" fill="#3a8587"/>
<circle cx="98.4" cy="356.9" r="2.5" fill="#3a8587"/>
<circle cx="103.3" cy="372.6" r="2.5" fill="#3a8587"/>
<circle cx="108.3" cy="384" r="2.5" fill="#3a8587"/>
<circle cx="113.3" cy="386.2" r="2.5" fill="#3a8587"/>
<circle cx="118.3" cy="379.6" r="2.5" fill="#3a8587"/>
<circle cx="123.1" cy="369.2" r="2.5" fill="#3a8587"/>
<circle cx="128.1" cy="359.2" r="2.5" fill="#3a8587"/>
<circle cx="133.1" cy="356.5" r="2.5" fill="#3a8587"/>
<circle cx="138.1" cy="362.1" r="2.5" fill="#3a8587"/>
<circle cx="142.8" cy="372.9" r="2.5" fill="#3a8587"/>
<circle cx="147.7" cy="379.6" r="2.5" fill="#3a8587"/>
<circle cx="152.7" cy="378.2" r="2.5" fill="#3a8587"/>
<circle cx="157.7" cy="369.6" r="2.5" fill="#3a8587"/>
<circle cx="162.7" cy="355.4" r="2.5" fill="#3a8587"/>
<circle cx="167.7" cy="344.7" r="2.5" fill="#3a8587"/>
<circle cx="172.4" cy="341" r="2.5" fill="#3a8587"/>
<circle cx="177.4" cy="348.2" r="2.5" fill="#3a8587"/>
<circle cx="182.5" cy="362.8" r="2.5" fill="#3a8587"/>
<circle cx="187.5" cy="378" r="2.5" fill="#3a8587"/>
<circle cx="192.5" cy="385.7" r="2.5" fill="#3a8587"/>
<circle cx="197.3" cy="385.3" r="2.5" fill="#3a8587"/>
<circle cx="202.3" cy="375.7" r="2.5" fill="#3a8587"/>
<circle cx="207.1" cy="363.2" r="2.5" fill="#3a8587"/>
<circle cx="212.3" cy="354.9" r="2.5" fill="#3a8587"/>
<circle cx="217.4" cy="356.2" r="2.5" fill="#3a8587"/>
<circle cx="222.3" cy="363.2" r="2.5" fill="#3a8587"/>
<circle cx="227.1" cy="373.3" r="2.5" fill="#3a8587"/>
<circle cx="232.1" cy="378.6" r="2.5" fill="#3a8587"/>
<circle cx="237" cy="376.3" r="2.5" fill="#3a8587"/>
<circle cx="241.6" cy="365.9" r="2.5" fill="#3a8587"/>
<circle cx="246.5" cy="353.1" r="2.5" fill="#3a8587"/>
<circle cx="251.6" cy="344.4" r="2.5" fill="#3a8587"/>
<circle cx="256.6" cy="344.1" r="2.5" fill="#3a8587"/>
<circle cx="261.4" cy="353.1" r="2.5" fill="#3a8587"/>
<circle cx="266.4" cy="368.7" r="2.5" fill="#3a8587"/>
<circle cx="271.4" cy="381.3" r="2.5" fill="#3a8587"/>
<circle cx="276.3" cy="386.3" r="2.5" fill="#3a8587"/>
<circle cx="281.4" cy="381.3" r="2.5" fill="#3a8587"/>
<circle cx="286.2" cy="369.6" r="2.5" fill="#3a8587"/>
<circle cx="291.2" cy="357.1" r="2.5" fill="#3a8587"/>
<circle cx="296.3" cy="352.2" r="2.5" fill="#3a8587"/>
<circle cx="301.3" cy="353.8" r="2.5" fill="#3a8587"/>
<rect x="57.3" y="271.6" width="247.3" height="129.1" fill="none" stroke="#231f20" stroke-width="1.7"/>
<line x1="57.3" y1="336.7" x2="304.6" y2="336.7" stroke="#231f20" stroke-width="1.7" />
<line x1="57.3" y1="284.4" x2="62.3" y2="284.4" stroke="#231f20" stroke-width="1.6" />
<line x1="57.3" y1="304.7" x2="62.3" y2="304.7" stroke="#231f20" stroke-width="1.6" />
<line x1="57.3" y1="325.2" x2="62.3" y2="325.2" stroke="#231f20" stroke-width="1.6" />
<line x1="57.3" y1="341.5" x2="62.3" y2="341.5" stroke="#231f20" stroke-width="1.6" />
<line x1="57.3" y1="369.5" x2="62.3" y2="369.5" stroke="#231f20" stroke-width="1.6" />
<line x1="57.3" y1="396.3" x2="62.3" y2="396.3" stroke="#231f20" stroke-width="1.6" />
<line x1="98.6" y1="400.7" x2="98.6" y2="395.4" stroke="#231f20" stroke-width="1.6" />
<line x1="98.6" y1="336.7" x2="98.6" y2="331.4" stroke="#231f20" stroke-width="1.6" />
<line x1="139.9" y1="400.7" x2="139.9" y2="395.4" stroke="#231f20" stroke-width="1.6" />
<line x1="139.9" y1="336.7" x2="139.9" y2="331.4" stroke="#231f20" stroke-width="1.6" />
<line x1="181.2" y1="400.7" x2="181.2" y2="395.4" stroke="#231f20" stroke-width="1.6" />
<line x1="181.2" y1="336.7" x2="181.2" y2="331.4" stroke="#231f20" stroke-width="1.6" />
<line x1="222.5" y1="400.7" x2="222.5" y2="395.4" stroke="#231f20" stroke-width="1.6" />
<line x1="222.5" y1="336.7" x2="222.5" y2="331.4" stroke="#231f20" stroke-width="1.6" />
<line x1="263.8" y1="400.7" x2="263.8" y2="395.4" stroke="#231f20" stroke-width="1.6" />
<line x1="263.8" y1="336.7" x2="263.8" y2="331.4" stroke="#231f20" stroke-width="1.6" />
<text x="53.9" y="289.6" font-size="14" fill="#8e3439" text-anchor="end" >52.5</text>
<text x="53.9" y="310.9" font-size="14" fill="#8e3439" text-anchor="end" >50</text>
<text x="53.9" y="330.6" font-size="14" fill="#8e3439" text-anchor="end" >47.5</text>
<text x="53.4" y="348" font-size="13.6" fill="#3a8587" text-anchor="end" >804</text>
<text x="54" y="373.8" font-size="13.6" fill="#3a8587" text-anchor="end" >792</text>
<text x="53.6" y="400.7" font-size="13.6" fill="#3a8587" text-anchor="end" >780</text>
<text x="60.3" y="420.3" font-size="17.5" fill="#231f20" text-anchor="middle" >60</text>
<text x="101.6" y="420.3" font-size="17.5" fill="#231f20" text-anchor="middle" >61</text>
<text x="142.9" y="420.3" font-size="17.5" fill="#231f20" text-anchor="middle" >62</text>
<text x="184.2" y="420.3" font-size="17.5" fill="#231f20" text-anchor="middle" >63</text>
<text x="225.5" y="420.3" font-size="17.5" fill="#231f20" text-anchor="middle" >64</text>
<text x="266.8" y="420.3" font-size="17.5" fill="#231f20" text-anchor="middle" >65</text>
<text x="172.4" y="443" font-size="19.3" fill="#231f20" text-anchor="middle" >Time (s)</text>
<text transform="translate(12.1,340.6) rotate(-90)" font-size="16.2" fill="#231f20" textLength="79" lengthAdjust="spacing">Load (mN)</text>
<text transform="translate(12.1,406.0) rotate(-90)" font-size="16.2" fill="#231f20" textLength="51" lengthAdjust="spacing">D (nm)</text>
<text x="75.2" y="250.8" font-size="19" fill="#231f20" text-anchor="start" >φ</text>
<text x="88.4" y="258.6" font-size="11" fill="#231f20" text-anchor="start" >mec</text>
<line x1="82.2" y1="263.3" x2="89.7" y2="263.3" stroke="#d9793a" stroke-width="1.8" />
<polygon points="95.8,263.3 89.2,266.5 89.2,263.3 89.2,260.1" fill="#d9793a"/>
<text x="358.3" y="253.5" font-size="19.5" fill="#231f20" text-anchor="start" >d</text>
<line x1="403.9" y1="274" x2="629.8" y2="274" stroke="#231f20" stroke-width="1.7" />
<line x1="403.9" y1="273.15" x2="403.9" y2="402.35" stroke="#231f20" stroke-width="1.7" />
<line x1="403.9" y1="401.5" x2="629.8" y2="401.5" stroke="#231f20" stroke-width="1.7" />
<line x1="629.8" y1="273.15" x2="629.8" y2="402.35" stroke="#f37b30" stroke-width="1.6" />
<line x1="403.9" y1="306.1" x2="409.1" y2="306.1" stroke="#231f20" stroke-width="1.6" />
<text x="399.3" y="310.7" font-size="16.5" fill="#231f20" text-anchor="end" >90</text>
<line x1="403.9" y1="337.6" x2="409.1" y2="337.6" stroke="#231f20" stroke-width="1.6" />
<text x="399.3" y="342.2" font-size="16.5" fill="#231f20" text-anchor="end" >80</text>
<line x1="403.9" y1="369.3" x2="409.1" y2="369.3" stroke="#231f20" stroke-width="1.6" />
<text x="399.3" y="373.9" font-size="16.5" fill="#231f20" text-anchor="end" >70</text>
<line x1="629.8" y1="310.5" x2="624.6" y2="310.5" stroke="#f37b30" stroke-width="1.6" />
<line x1="629.8" y1="356.6" x2="624.6" y2="356.6" stroke="#f37b30" stroke-width="1.6" />
<line x1="629.8" y1="401.5" x2="624.6" y2="401.5" stroke="#f37b30" stroke-width="1.6" />
<text x="632.3" y="316.3" font-size="16.5" fill="#231f20" text-anchor="start" >0.2</text>
<text x="632.3" y="363.4" font-size="16.5" fill="#231f20" text-anchor="start" >0.1</text>
<text x="632.3" y="406.4" font-size="16.5" fill="#231f20" text-anchor="start" >0</text>
<line x1="410.68" y1="401.5" x2="410.68" y2="398.7" stroke="#231f20" stroke-width="1.5" />
<line x1="416.44" y1="401.5" x2="416.44" y2="398.7" stroke="#231f20" stroke-width="1.5" />
<line x1="455.53" y1="401.5" x2="455.53" y2="398.7" stroke="#231f20" stroke-width="1.5" />
<line x1="475.37" y1="401.5" x2="475.37" y2="398.7" stroke="#231f20" stroke-width="1.5" />
<line x1="489.45" y1="401.5" x2="489.45" y2="398.7" stroke="#231f20" stroke-width="1.5" />
<line x1="500.37" y1="401.5" x2="500.37" y2="398.7" stroke="#231f20" stroke-width="1.5" />
<line x1="509.3" y1="401.5" x2="509.3" y2="398.7" stroke="#231f20" stroke-width="1.5" />
<line x1="516.84" y1="401.5" x2="516.84" y2="398.7" stroke="#231f20" stroke-width="1.5" />
<line x1="523.38" y1="401.5" x2="523.38" y2="398.7" stroke="#231f20" stroke-width="1.5" />
<line x1="529.14" y1="401.5" x2="529.14" y2="398.7" stroke="#231f20" stroke-width="1.5" />
<line x1="568.23" y1="401.5" x2="568.23" y2="398.7" stroke="#231f20" stroke-width="1.5" />
<line x1="588.07" y1="401.5" x2="588.07" y2="398.7" stroke="#231f20" stroke-width="1.5" />
<line x1="602.15" y1="401.5" x2="602.15" y2="398.7" stroke="#231f20" stroke-width="1.5" />
<line x1="613.07" y1="401.5" x2="613.07" y2="398.7" stroke="#231f20" stroke-width="1.5" />
<line x1="421.6" y1="401.5" x2="421.6" y2="396" stroke="#231f20" stroke-width="1.5" />
<line x1="534.3" y1="401.5" x2="534.3" y2="396" stroke="#231f20" stroke-width="1.5" />
<text x="411.9" y="420.3" font-size="16.5" fill="#231f20">10<tspan font-size="10" dy="-5.4">0</tspan></text>
<text x="523.1" y="420.3" font-size="16.5" fill="#231f20">10<tspan font-size="10" dy="-5.4">1</tspan></text>
<text x="524.7" y="442.7" font-size="19.5" fill="#231f20" text-anchor="middle" >Frequency (Hz)</text>
<line x1="429.09" y1="369.6" x2="434.81" y2="369.91" stroke="#7d3a88" stroke-width="1.6" stroke-dasharray="3 7.9" />
<line x1="451.22" y1="367.23" x2="457.74" y2="364.28" stroke="#803a86" stroke-width="1.6" stroke-dasharray="3 7.9" />
<line x1="472.55" y1="355.91" x2="481.77" y2="349.29" stroke="#843a84" stroke-width="1.6" stroke-dasharray="3 7.9" />
<line x1="496.48" y1="340.78" x2="503.25" y2="337.89" stroke="#883a80" stroke-width="1.6" stroke-dasharray="3 7.9" />
<line x1="519.42" y1="335.83" x2="524.81" y2="337" stroke="#8e3a7e" stroke-width="1.6" stroke-dasharray="3 7.9" />
<line x1="541.68" y1="339.59" x2="547.93" y2="340.08" stroke="#9c3b78" stroke-width="1.6" stroke-dasharray="3 7.9" />
<line x1="560.53" y1="333.81" x2="575.26" y2="301.93" stroke="#c23e66" stroke-width="1.6" stroke-dasharray="3 7.9" />
<line x1="584.85" y1="298.63" x2="595.1" y2="308.12" stroke="#c9456a" stroke-width="1.6" stroke-dasharray="3 7.9" />
<line x1="428.83" y1="390.16" x2="435.25" y2="392.22" stroke="#f37b30" stroke-width="1.6" stroke-dasharray="3 7.9" />
<line x1="451.9" y1="395.1" x2="456.9" y2="395.1" stroke="#f37b30" stroke-width="1.6" stroke-dasharray="3 7.9" />
<line x1="474" y1="395.13" x2="480" y2="395.16" stroke="#f37b30" stroke-width="1.6" stroke-dasharray="3 7.9" />
<line x1="497.03" y1="394.15" x2="502.59" y2="393.38" stroke="#f37b30" stroke-width="1.6" stroke-dasharray="3 7.9" />
<line x1="519.55" y1="391.24" x2="524.86" y2="390.65" stroke="#f37b30" stroke-width="1.6" stroke-dasharray="3 7.9" />
<line x1="541.88" y1="389.03" x2="547.83" y2="388.59" stroke="#f37b30" stroke-width="1.6" stroke-dasharray="3 7.9" />
<line x1="564.35" y1="385.05" x2="570.57" y2="382.58" stroke="#f37b30" stroke-width="1.6" stroke-dasharray="3 7.9" />
<line x1="586.24" y1="375.77" x2="593.33" y2="372.37" stroke="#f37b30" stroke-width="1.6" stroke-dasharray="3 7.9" />
<path d="M421.4,361.1 L423.63,366.13 L429.1,366.7 L425.01,370.37 L426.16,375.75 L421.4,373 L416.64,375.75 L417.79,370.37 L413.7,366.7 L419.17,366.13Z" fill="#7f3f85"/>
<path d="M444.2,362.3 L446.43,367.33 L451.9,367.9 L447.81,371.57 L448.96,376.95 L444.2,374.2 L439.44,376.95 L440.59,371.57 L436.5,367.9 L441.97,367.33Z" fill="#a54374"/>
<path d="M466.3,352.3 L468.53,357.33 L474,357.9 L469.91,361.57 L471.06,366.95 L466.3,364.2 L461.54,366.95 L462.69,361.57 L458.6,357.9 L464.07,357.33Z" fill="#b64468"/>
<path d="M489.4,335.7 L491.63,340.73 L497.1,341.3 L493.01,344.97 L494.16,350.35 L489.4,347.6 L484.64,350.35 L485.79,344.97 L481.7,341.3 L487.17,340.73Z" fill="#c5445b"/>
<path d="M511.9,326.1 L514.13,331.13 L519.6,331.7 L515.51,335.37 L516.66,340.75 L511.9,338 L507.14,340.75 L508.29,335.37 L504.2,331.7 L509.67,331.13Z" fill="#d54552"/>
<path d="M534,330.9 L536.23,335.93 L541.7,336.5 L537.61,340.17 L538.76,345.55 L534,342.8 L529.24,345.55 L530.39,340.17 L526.3,336.5 L531.77,335.93Z" fill="#e24646"/>
<path d="M557.3,332.7 L559.53,337.73 L565,338.3 L560.91,341.97 L562.06,347.35 L557.3,344.6 L552.54,347.35 L553.69,341.97 L549.6,338.3 L555.07,337.73Z" fill="#f04a40"/>
<path d="M579.2,285.3 L581.43,290.33 L586.9,290.9 L582.81,294.57 L583.96,299.95 L579.2,297.2 L574.44,299.95 L575.59,294.57 L571.5,290.9 L576.97,290.33Z" fill="#ef4940"/>
<path d="M602,306.4 L604.23,311.43 L609.7,312 L605.61,315.67 L606.76,321.05 L602,318.3 L597.24,321.05 L598.39,315.67 L594.3,312 L599.77,311.43Z" fill="#ee3a3a"/>
<path d="M421.5,380.9 L423.26,385.37 L428.06,385.67 L424.35,388.73 L425.56,393.38 L421.5,390.8 L417.44,393.38 L418.65,388.73 L414.94,385.67 L419.74,385.37Z" fill="none" stroke="#f37b30" stroke-width="1.9" stroke-linejoin="round"/>
<path d="M444.2,388.2 L445.96,392.67 L450.76,392.97 L447.05,396.03 L448.26,400.68 L444.2,398.1 L440.14,400.68 L441.35,396.03 L437.64,392.97 L442.44,392.67Z" fill="none" stroke="#f37b30" stroke-width="1.9" stroke-linejoin="round"/>
<path d="M466.3,388.2 L468.06,392.67 L472.86,392.97 L469.15,396.03 L470.36,400.68 L466.3,398.1 L462.24,400.68 L463.45,396.03 L459.74,392.97 L464.54,392.67Z" fill="none" stroke="#f37b30" stroke-width="1.9" stroke-linejoin="round"/>
<path d="M489.4,388.3 L491.16,392.77 L495.96,393.07 L492.25,396.13 L493.46,400.78 L489.4,398.2 L485.34,400.78 L486.55,396.13 L482.84,393.07 L487.64,392.77Z" fill="none" stroke="#f37b30" stroke-width="1.9" stroke-linejoin="round"/>
<path d="M511.9,385.2 L513.66,389.67 L518.46,389.97 L514.75,393.03 L515.96,397.68 L511.9,395.1 L507.84,397.68 L509.05,393.03 L505.34,389.97 L510.14,389.67Z" fill="none" stroke="#f37b30" stroke-width="1.9" stroke-linejoin="round"/>
<path d="M534.2,382.7 L535.96,387.17 L540.76,387.47 L537.05,390.53 L538.26,395.18 L534.2,392.6 L530.14,395.18 L531.35,390.53 L527.64,387.47 L532.44,387.17Z" fill="none" stroke="#f37b30" stroke-width="1.9" stroke-linejoin="round"/>
<path d="M557.2,381 L558.96,385.47 L563.76,385.77 L560.05,388.83 L561.26,393.48 L557.2,390.9 L553.14,393.48 L554.35,388.83 L550.64,385.77 L555.44,385.47Z" fill="none" stroke="#f37b30" stroke-width="1.9" stroke-linejoin="round"/>
<path d="M579.3,372.2 L581.06,376.67 L585.86,376.97 L582.15,380.03 L583.36,384.68 L579.3,382.1 L575.24,384.68 L576.45,380.03 L572.74,376.97 L577.54,376.67Z" fill="none" stroke="#f37b30" stroke-width="1.9" stroke-linejoin="round"/>
<path d="M601.8,361.4 L603.56,365.87 L608.36,366.17 L604.65,369.23 L605.86,373.88 L601.8,371.3 L597.74,373.88 L598.95,369.23 L595.24,366.17 L600.04,365.87Z" fill="none" stroke="#f37b30" stroke-width="1.9" stroke-linejoin="round"/>
<path d="M420.8,276.3 L422.5,280.55 L427.08,280.86 L423.56,283.8 L424.68,288.24 L420.8,285.8 L416.92,288.24 L418.04,283.8 L414.52,280.86 L419.1,280.55Z" fill="#7d3c87"/>
<path d="M420.8,295 L422.21,298.66 L426.13,298.87 L423.08,301.34 L424.09,305.13 L420.8,303 L417.51,305.13 L418.52,301.34 L415.47,298.87 L419.39,298.66Z" fill="none" stroke="#f37b30" stroke-width="1.9" stroke-linejoin="round"/>
<text x="432.2" y="287.4" font-size="16.65" fill="#231f20" text-anchor="start" >Storage Modulus</text>
<text x="432.5" y="305.7" font-size="16.6" fill="#231f20" text-anchor="start" >Elastic Loss</text>
<text transform="translate(369.0,366.4) rotate(-90)" font-size="20" fill="#231f20" textLength="73" lengthAdjust="spacingAndGlyphs">E’ (GPa)</text>
<text transform="translate(670.6,302.4) rotate(90)" font-size="18.5" fill="#231f20">tan(<tspan font-size="20" dx="1.2">φ</tspan><tspan font-size="12" dy="6.6">mec</tspan><tspan dy="-6.6">)</tspan></text>
<line x1="370.6" y1="344.8" x2="410.06" y2="356.17" stroke="#7b3a8a" stroke-width="1.6" />
<polygon points="414,357.3 405.49,360.83 409.58,356.03 408.67,349.78" fill="#7b3a8a"/>
<line x1="655.5" y1="369.7" x2="617.8" y2="369.7" stroke="#f37b30" stroke-width="1.8" />
<polygon points="613.8,369.7 620.4,364 618.3,369.7 620.4,375.4" fill="#f37b30"/>
</svg>
</body></html>
